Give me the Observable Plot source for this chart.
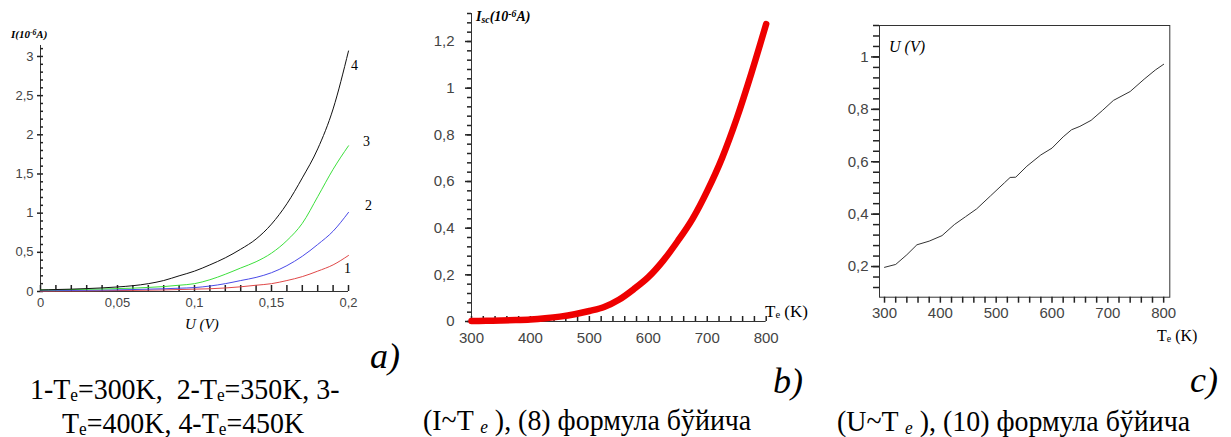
<!DOCTYPE html>
<html>
<head>
<meta charset="utf-8">
<script src="https://cdn.jsdelivr.net/npm/d3@7"></script>
<script src="https://cdn.jsdelivr.net/npm/@observablehq/plot@0.6"></script>
<style>
  body { margin: 0; background: #fff; }
  #wrap { position: relative; width: 1231px; height: 437px; overflow: hidden; background: #fff; }
  .abs { position: absolute; white-space: nowrap; line-height: 1; }
  .serif { font-family: "Liberation Serif", "Times New Roman", serif; color: #000; }
  sub, sup { line-height: 0; }
  .cap { font-size: 30px; line-height: 0.8; transform: scaleX(0.93); transform-origin: 0 0; }
  .let { font-size: 36px; font-style: italic; }
  .sube { font-size: 0.62em; vertical-align: -0.1em; line-height: 0; }
  .subi { font-size: 0.62em; vertical-align: -0.15em; font-style: italic; line-height: 0; }
</style>
</head>
<body>
<div id="wrap">
  <!-- panel a labels -->
  <div class="abs serif" style="left:11px;top:28.5px;font-size:11px;font-weight:bold;font-style:italic;">I(10<sup style="font-size:0.7em;vertical-align:0.45em">-6</sup>A)</div>
  <div class="abs serif" style="left:185px;top:317px;font-size:15px;font-style:italic;">U (V)</div>
  <div class="abs serif let" style="left:370px;top:337.5px;">a)</div>
  <div class="abs serif cap" style="left:30px;top:377px;">1-T<span class="sube">e</span>=300K,&nbsp; 2-T<span class="sube">e</span>=350K, 3-</div>
  <div class="abs serif cap" style="left:62px;top:410.5px;">T<span class="sube">e</span>=400K, 4-T<span class="sube">e</span>=450K</div>
  <!-- panel b labels -->
  <div class="abs serif" style="left:476px;top:10px;font-size:14px;font-weight:bold;font-style:italic;">I<span style="font-size:0.7em;vertical-align:-0.2em">sc</span>(10<sup style="font-size:0.7em;vertical-align:0.45em">-6</sup>A)</div>
  <div class="abs serif" style="left:765px;top:302.5px;font-size:17px;">T<span class="sube">e</span> (K)</div>
  <div class="abs serif let" style="left:773px;top:362.5px;">b)</div>
  <div class="abs serif cap" style="left:423px;top:408px;">(I~T <span class="subi">e</span> ), (8) формула бўйича</div>
  <!-- panel c labels -->
  <div class="abs serif" style="left:889px;top:38.5px;font-size:16px;font-style:italic;">U (V)</div>
  <div class="abs serif" style="left:1157px;top:327.5px;font-size:16px;">T<span class="sube">e</span> (K)</div>
  <div class="abs serif let" style="left:1190px;top:361.5px;">c)</div>
  <div class="abs serif cap" style="left:837px;top:409px;">(U~T <span class="subi">e</span> ), (10) формула бўйича</div>
</div>
<script>
// ---------- Panel a: I(U) for four electron temperatures ----------
const U_a   = [0,0.01,0.02,0.03,0.04,0.05,0.06,0.07,0.08,0.09,0.10,0.11,0.12,0.13,0.14,0.15,0.16,0.17,0.18,0.19,0.20];
const I_300 = [0.005,0.006,0.007,0.008,0.010,0.012,0.014,0.017,0.020,0.025,0.030,0.035,0.045,0.060,0.080,0.100,0.140,0.190,0.260,0.340,0.460];
const I_350 = [0.010,0.012,0.014,0.016,0.018,0.021,0.025,0.030,0.035,0.042,0.050,0.070,0.100,0.140,0.180,0.240,0.330,0.450,0.600,0.770,1.010];
const I_400 = [0.020,0.022,0.025,0.028,0.032,0.037,0.043,0.052,0.063,0.080,0.100,0.150,0.220,0.300,0.380,0.490,0.650,0.870,1.210,1.560,1.860];
const I_450 = [0.020,0.025,0.030,0.037,0.046,0.058,0.074,0.100,0.140,0.200,0.260,0.340,0.430,0.540,0.670,0.860,1.120,1.450,1.820,2.330,3.070];
const seriesLabelsA = ["1","2","3","4"];
const xTicksA = [0,0.05,0.1,0.15,0.2];
const yTicksA = [0,0.5,1,1.5,2,2.5,3];

// ---------- Panel b: Isc(Te) ----------
const Te_b  = [300,325,350,375,400,425,450,475,500,525,550,575,600,625,650,675,700,725,750,775,800];
const Isc_b = [0.002,0.003,0.004,0.006,0.009,0.014,0.021,0.031,0.045,0.062,0.093,0.138,0.190,0.260,0.345,0.440,0.560,0.700,0.870,1.065,1.275];
const xTicksB = [300,400,500,600,700,800];
const yTicksB = [0,0.2,0.4,0.6,0.8,1,1.2];

// ---------- Panel c: U(Te) ----------
const Te_c = [300,320,340,358,380,403,425,445,465,490,515,525,535,555,580,600,620,635,650,670,690,710,740,765,785,800];
const U_c  = [0.197,0.208,0.245,0.283,0.297,0.318,0.360,0.390,0.420,0.470,0.520,0.540,0.541,0.583,0.626,0.652,0.695,0.722,0.735,0.758,0.795,0.834,0.868,0.915,0.950,0.972];
const xTicksC = [300,400,500,600,700,800];
const yTicksC = [0.2,0.4,0.6,0.8,1];

// ---------- helpers ----------
const fmt = d => String(+(+d).toFixed(3)).replace(".", ",");
const blank = () => "";
const rng = (a, b, s) => d3.range(Math.round(a / s), Math.round(b / s) + 1).map(i => +(i * s).toFixed(4));
const tickStyle = { stroke: "#222", strokeWidth: 1.5 };
// bottom-axis tick marks only; inward = drawn upward inside the frame
const xTickMarks = (vals, len, inward) =>
  Plot.axisX(vals, { tickSize: len, dy: inward ? -len : 0, tickFormat: blank, label: null, ...tickStyle });
// left-axis tick marks only; inward = drawn rightward inside the frame
const yTickMarks = (vals, len, inward) =>
  Plot.axisY(vals, { tickSize: len, dx: inward ? len : 0, tickFormat: blank, label: null, ...tickStyle });

const place = (svg, left, top) => {
  svg.style.position = "absolute";
  svg.style.left = left + "px";
  svg.style.top = top + "px";
  svg.style.maxWidth = "none";
  document.getElementById("wrap").appendChild(svg);
};

// ---------- Panel a ----------
const seriesA = [I_300, I_350, I_400, I_450];
const colorsA = ["#e04848", "#4a4ae8", "#3ce03c", "#111111"];
const rowsA = seriesA.map(ys => U_a.map((u, i) => ({ u, i: ys[i] })));
const labelOffsets = [[-1, 13], [20, -7], [18, -4], [6, 15]];

const plotA = Plot.plot({
  width: 380, height: 340,
  marginLeft: 40, marginRight: 32, marginTop: 45, marginBottom: 49,
  style: { background: "transparent", fontFamily: "'Liberation Sans', Arial, sans-serif", fontSize: "13px", color: "#444", overflow: "visible" },
  x: { domain: [0, 0.2] },
  y: { domain: [0, 3.14] },
  marks: [
    Plot.ruleX([0], { stroke: "#333" }),
    Plot.ruleY([0], { stroke: "#333" }),
    xTickMarks(rng(0, 0.2, 0.01), 6, true),
    yTickMarks(rng(0, 3.1, 0.1), 3, true),
    yTickMarks(yTicksA, 3, false),
    Plot.axisX(xTicksA, { tickSize: 0, tickPadding: 6, tickFormat: fmt, label: null }),
    Plot.axisY(yTicksA, { tickSize: 0, tickPadding: 7, tickFormat: fmt, label: null }),
    ...rowsA.map((rows, k) => Plot.line(rows, { x: "u", y: "i", stroke: colorsA[k], strokeWidth: 1, curve: "monotone-x" })),
    ...rowsA.map((rows, k) => Plot.text([rows[rows.length - 1]], {
      x: "u", y: "i", text: () => seriesLabelsA[k],
      dx: labelOffsets[k][0], dy: labelOffsets[k][1],
      fontFamily: "'Liberation Serif', serif", fontSize: 14, fill: "#000"
    }))
  ]
});
place(plotA, 0, 0);

// ---------- Panel b ----------
const rowsB = Te_b.map((t, i) => ({ t, v: Isc_b[i] }));
const plotB = Plot.plot({
  width: 420, height: 360,
  marginLeft: 71, marginRight: 54.3, marginTop: 13, marginBottom: 39,
  style: { background: "transparent", fontFamily: "'Liberation Sans', Arial, sans-serif", fontSize: "15px", color: "#444", overflow: "visible" },
  x: { domain: [300, 800] },
  y: { domain: [0, 1.32] },
  marks: [
    Plot.ruleX([300], { stroke: "#333" }),
    Plot.ruleY([0], { stroke: "#333" }),
    xTickMarks(rng(300, 800, 20), 5, true),
    yTickMarks(rng(0, 1.32, 0.04), 4, false),
    yTickMarks(yTicksB, 6, false),
    Plot.axisX(xTicksB, { tickSize: 0, tickPadding: 11, label: null }),
    Plot.axisY(yTicksB, { tickSize: 0, tickPadding: 17, tickFormat: fmt, label: null }),
    Plot.line(rowsB, { x: "t", y: "v", stroke: "#ee0000", strokeWidth: 6.5, strokeLinecap: "round", strokeLinejoin: "round", curve: "monotone-x" })
  ]
});
place(plotB, 400, 0);

// ---------- Panel c ----------
const rowsC = Te_c.map((t, i) => ({ t, v: U_c[i] }));
const plotC = Plot.plot({
  width: 401, height: 345,
  marginLeft: 49, marginRight: 61.7, marginTop: 25, marginBottom: 48.3,
  style: { background: "transparent", fontFamily: "'Liberation Sans', Arial, sans-serif", fontSize: "15px", color: "#444", overflow: "visible" },
  x: { domain: [291, 811] },
  y: { domain: [0.083, 1.12] },
  marks: [
    Plot.frame({ stroke: "#333" }),
    xTickMarks(rng(300, 800, 20), 6, false),
    yTickMarks(rng(0.12, 1.12, 0.04), 6, false),
    yTickMarks(yTicksC, 8, false),
    Plot.axisX(xTicksC, { tickSize: 0, tickPadding: 10, label: null }),
    Plot.axisY(yTicksC, { tickSize: 0, tickPadding: 11, tickFormat: fmt, label: null }),
    Plot.line(rowsC, { x: "t", y: "v", stroke: "#333", strokeWidth: 1 })
  ]
});
place(plotC, 830, 0);
</script>
</body>
</html>
